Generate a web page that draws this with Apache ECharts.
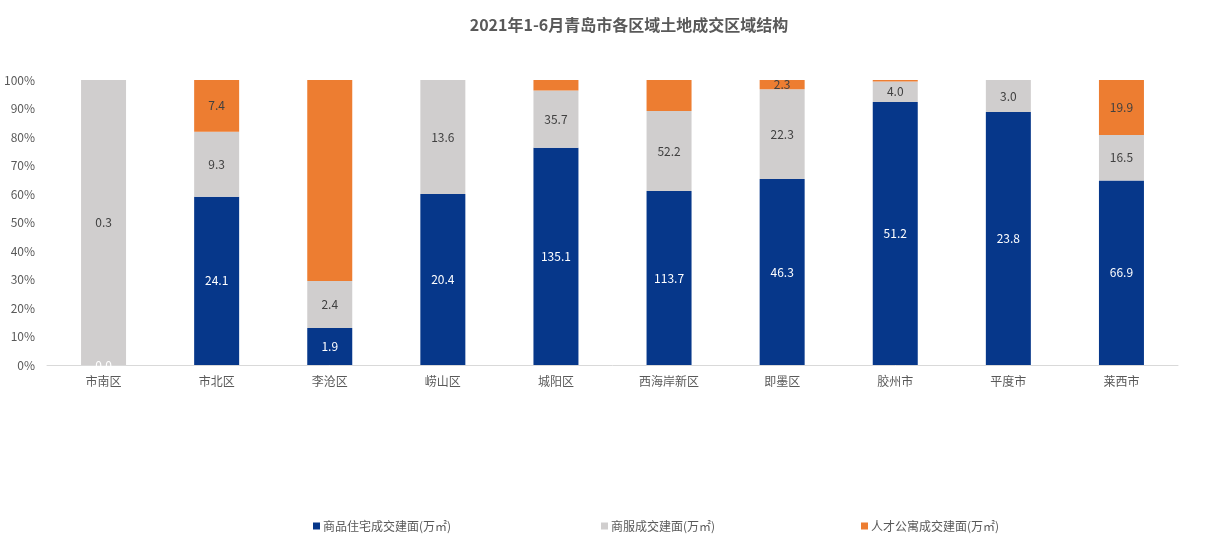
<!DOCTYPE html>
<html><head><meta charset="utf-8">
<script src="https://cdn.jsdelivr.net/npm/echarts@6/dist/echarts.min.js"></script>
<style>html,body{margin:0;padding:0;background:#fff}#c{width:1212px;height:560px}</style>
</head><body><div id="c"></div>
<script>
var categories = ['市南区','市北区','李沧区','崂山区','城阳区','西海岸新区','即墨区','胶州市','平度市','莱西市'];
var seriesNames = ['商品住宅成交建面(万㎡)','商服成交建面(万㎡)','人才公寓成交建面(万㎡)'];
var residential = [0.0, 24.1, 1.9, 20.4, 135.1, 113.7, 46.3, 51.2, 23.8, 66.9];
var commercial  = [0.3, 9.3, 2.4, 13.6, 35.7, 52.2, 22.3, 4.0, 3.0, 16.5];
var talent      = [0, 7.4, 10.3, 0, 6.5, 20.3, 2.3, 0.3, 0, 19.9];
var talentLabelShown = [false, true, false, false, false, false, true, false, false, true];
var yTicks = ['0%','10%','20%','30%','40%','50%','60%','70%','80%','90%','100%'];

var colors = ['#06378A','#D0CECE','#ED7D31'];
var raw = [residential, commercial, talent];
var totals = categories.map(function(_, i){ return residential[i] + commercial[i] + talent[i]; });

function build(k){
  return raw[k].map(function(v, i){
    var item = { value: totals[i] ? v / totals[i] * 100 : 0, raw: v };
    var show;
    if (k === 0) show = true;
    else if (k === 1) show = v > 0;
    else show = talentLabelShown[i];
    item.label = { show: show };
    if (k === 0 && v === 0) item.label = { show: true, position: 'insideBottom', distance: -6 };
    return item;
  });
}

var labelColors = ['#FFFFFF','#404040','#404040'];
var series = seriesNames.map(function(name, k){
  return {
    name: name, type: 'bar', stack: 'all', barWidth: 45,
    itemStyle: { color: colors[k] },
    data: build(k),
    label: {
      position: 'inside', color: labelColors[k], fontSize: 12,
      fontFamily: 'Noto Sans CJK SC',
      formatter: function(p){ return p.data.raw.toFixed(1); }
    }
  };
});

var chart = echarts.init(document.getElementById('c'));
chart.setOption({
  animation: false,
  backgroundColor: '#fff',
  title: {
    text: '2021年1-6月青岛市各区域土地成交区域结构',
    left: 624, top: 12, textAlign: 'center',
    textStyle: { fontSize: 16, fontWeight: 'bold', color: '#595959', fontFamily: 'Noto Sans CJK SC' }
  },
  legend: [0,1,2].map(function(k){
    return {
      data: [seriesNames[k]], left: [308, 596, 856][k], top: 515,
      itemWidth: 7, itemHeight: 7, icon: 'rect', itemGap: 4,
      textStyle: { fontSize: 12, color: '#595959', fontFamily: 'Noto Sans CJK SC', padding: [0,0,0,-2] }
    };
  }),
  grid: { left: 47, right: 34, top: 80, bottom: 195 },
  xAxis: {
    type: 'category', data: categories,
    axisLine: { lineStyle: { color: '#D9D9D9' } },
    axisTick: { show: false },
    axisLabel: { color: '#595959', fontSize: 12, margin: 10, fontFamily: 'Noto Sans CJK SC' }
  },
  yAxis: {
    type: 'value', min: 0, max: 100, interval: 10,
    axisLine: { show: false }, axisTick: { show: false },
    splitLine: { show: false },
    axisLabel: { color: '#595959', fontSize: 12, margin: 12, fontFamily: 'Noto Sans CJK SC',
      formatter: function(v){ return yTicks[Math.round(v / 10)]; } }
  },
  series: series
});
</script></body></html>
